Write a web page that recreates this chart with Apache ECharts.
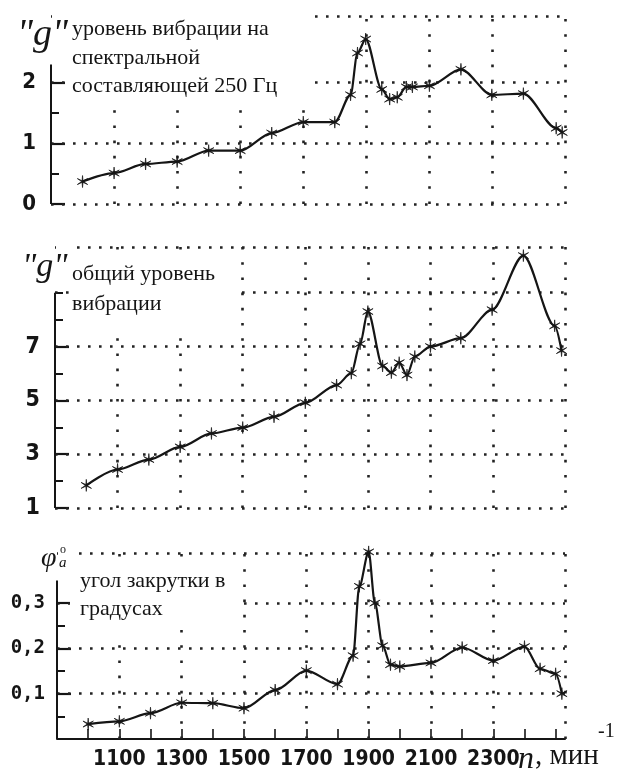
<!DOCTYPE html>
<html><head><meta charset="utf-8">
<script src="https://cdn.jsdelivr.net/npm/echarts@6/dist/echarts.min.js"></script>
<style>html,body{margin:0;padding:0;background:#fff}#c{width:617px;height:776px}</style>
</head><body><div id="c"></div>
<script>
// ---------- data ----------
const rpmTop = [1000,1100,1200,1300,1400,1500,1600,1700,1800,1850,1872,1898,1949,1974,1998,2027,2046,2100,2200,2298,2398,2502,2521];
const vib250 = [0.37,0.51,0.66,0.70,0.88,0.88,1.17,1.35,1.35,1.80,2.49,2.72,1.89,1.73,1.76,1.93,1.93,1.95,2.22,1.80,1.82,1.25,1.18];

const rpmMid = [1000,1100,1200,1300,1400,1500,1600,1700,1800,1847,1875,1900,1947,1975,2000,2025,2050,2100,2197,2297,2397,2497,2519];
const vibTotal = [1.84,2.43,2.80,3.27,3.77,3.99,4.39,4.91,5.57,6.01,7.10,8.30,6.28,6.03,6.40,5.94,6.63,7.00,7.31,8.37,10.38,7.77,6.85];

const rpmBot = [1000,1100,1200,1300,1400,1500,1600,1700,1800,1850,1870,1900,1920,1945,1970,2000,2100,2200,2300,2400,2450,2500,2520];
const twist = [0.033,0.039,0.057,0.080,0.079,0.068,0.108,0.151,0.121,0.184,0.337,0.413,0.300,0.206,0.164,0.160,0.168,0.202,0.173,0.204,0.155,0.144,0.100];

const xMin = 900, xMax = 2530;
const xGridLines = [1100,1300,1500,1700,1900,2100,2300,2530];
const xTicks = [1000,1100,1200,1300,1400,1500,1600,1700,1800,1900,2000,2100,2200,2300,2400,2500];
const xTickLabels = [1100,1300,1500,1700,1900,2100,2300];

const topRange = [0, 3.1],   topGridY = [0,1,2,3.1],       topMajor = [0,1,2],         topMinor = [0.5,1.5],            topLabels = [0,1,2],         topAxisEnd = 2.3;
const midRange = [1, 10.7],  midGridY = [1,3,5,7,9,10.7],  midMajor = [1,3,5,7],       midMinor = [2,4,6,8,9],          midLabels = [1,3,5,7],       midAxisEnd = 9;
const botRange = [0, 0.415], botGridY = [0.1,0.2,0.3,0.415], botMajor = [0.1,0.2,0.3], botMinor = [0.05,0.15,0.25],     botLabels = [0.1,0.2,0.3],   botAxisEnd = 0.35;

const titleTop = 'уровень вибрации на\nспектральной\nсоставляющей 250 Гц';
const titleMid = 'общий уровень\nвибрации';
const titleBot = 'угол закрутки в\nградусах';

// ---------- styling ----------
const ink = '#151515';
const narrow = '"Liberation Sans Narrow","DejaVu Sans Condensed",sans-serif';
const mono = '"DejaVu Sans Mono","Liberation Mono",monospace';
const serif = '"Liberation Serif","DejaVu Serif",serif';
const asterisk = 'path://M10,0 L10.8,8.6 L18.66,5 L11.6,10 L18.66,15 L10.8,11.4 L10,20 L9.2,11.4 L1.34,15 L8.4,10 L1.34,5 L9.2,8.6 Z';

const grids = [
  {left: 51, right: 52, top: 16, height: 188},
  {left: 55, right: 52, top: 247, height: 261},
  {left: 57, right: 52, top: 551, height: 188}
];

const panels = [
  {x: rpmTop, y: vib250, range: topRange, gridY: topGridY, major: topMajor, minor: topMinor, labels: topLabels, axisEnd: topAxisEnd,
   labelFont: narrow, labelSize: 22, labelMargin: 15, fmt: v => String(v)},
  {x: rpmMid, y: vibTotal, range: midRange, gridY: midGridY, major: midMajor, minor: midMinor, labels: midLabels, axisEnd: midAxisEnd,
   labelFont: narrow, labelSize: 23, labelMargin: 15, fmt: v => String(v)},
  {x: rpmBot, y: twist, range: botRange, gridY: botGridY, major: botMajor, minor: botMinor, labels: botLabels, axisEnd: botAxisEnd,
   labelFont: mono, labelSize: 19, labelMargin: 12, fmt: v => v.toFixed(1).replace('.', ',')}
];

const hDot = {type: [2.6, 8.4], width: 2.6, color: '#222', cap: 'butt'};
const vDot = {type: [2.6, 12.6], width: 2.6, color: '#222', cap: 'butt'};

const xAxes = [], yAxes = [], series = [];
panels.forEach((p, i) => {
  const isBottom = i === 2;
  xAxes.push({
    gridIndex: i, type: 'value', min: xMin, max: xMax, position: 'bottom',
    axisLine: {show: isBottom, onZero: false, lineStyle: {color: ink, width: 2}},
    axisTick: {show: isBottom, inside: true, length: 10, customValues: xTicks, lineStyle: {color: ink, width: 1.6}},
    axisLabel: {show: isBottom, customValues: xTickLabels, formatter: v => String(v), hideOverlap: false,
      fontFamily: narrow, fontWeight: 'bold', fontSize: 21, color: ink, margin: 10},
    splitLine: {show: false}
  });
  yAxes.push({
    gridIndex: i, type: 'value', min: p.range[0], max: p.range[1], position: 'left',
    axisLine: {show: false},
    axisTick: {show: true, inside: true, length: 14, customValues: p.major, lineStyle: {color: ink, width: 2.2}},
    axisLabel: {show: true, customValues: p.labels, formatter: p.fmt, fontFamily: p.labelFont, fontWeight: 'bold', fontSize: p.labelSize, color: ink, margin: p.labelMargin},
    splitLine: {show: false}
  });
  yAxes.push({
    gridIndex: i, type: 'value', min: p.range[0], max: p.range[1], position: 'left', offset: 0,
    axisLine: {show: false},
    axisTick: {show: true, inside: true, length: 8, customValues: p.minor, lineStyle: {color: ink, width: 2}},
    axisLabel: {show: false},
    splitLine: {show: false}
  });
  const pts = p.x.map((x, k) => [x, p.y[k]]);
  const ml = [];
  p.gridY.forEach(v => ml.push({yAxis: v, lineStyle: hDot}));
  xGridLines.forEach(v => ml.push({xAxis: v, lineStyle: vDot}));
  ml.push([{coord: [xMin, p.range[0]], lineStyle: {type: 'solid', color: ink, width: 2}}, {coord: [xMin, p.axisEnd]}]);
  series.push({
    type: 'line', xAxisIndex: i, yAxisIndex: 2 * i, data: pts, showSymbol: false, silent: true, clip: false, z: 1,
    lineStyle: {opacity: 0},
    markLine: {silent: true, z: 1, symbol: ['none', 'none'], label: {show: false}, animation: false, data: ml}
  });
  series.push({
    type: 'line', xAxisIndex: i, yAxisIndex: 2 * i, data: pts, z: 5,
    smooth: 0.3, smoothMonotone: 'x',
    symbol: asterisk, symbolSize: 12, symbolKeepAspect: true, showAllSymbol: true,
    lineStyle: {color: ink, width: 2.2},
    itemStyle: {color: ink, borderColor: ink, borderWidth: 0.7}
  });
});

const W = '#ffffff';
const rect = (x, y, w, h) => ({type: 'rect', shape: {x, y, width: w, height: h}, style: {fill: W}, z: 3, silent: true});
const txt = (x, y, text, font, extra) => ({type: 'text', x, y, z: 6, silent: true,
  style: Object.assign({text, font, fill: ink, verticalAlign: 'top', align: 'left'}, extra || {})});

const graphic = [
  // masks where the printed grid is interrupted by captions
  rect(52, 6, 258, 57), rect(66, 62, 244, 48),
  rect(56, 242, 16, 48), rect(70, 251, 164, 77),
  rect(58, 545, 14, 32), rect(70, 557, 166, 67), rect(110, 623, 18, 22),
  // captions
  txt(17, 16, '"g"', 'italic 38px ' + serif),
  txt(72, 15, titleTop, '22px ' + serif, {lineHeight: 28.5}),
  txt(22, 250, '"g"', 'italic 34px ' + serif),
  txt(72, 259, titleMid, '22px ' + serif, {lineHeight: 30}),
  txt(41, 545, 'φ', 'italic 28px ' + serif),
  txt(60, 544, 'o', '12px ' + serif),
  txt(59, 556, 'a', 'italic 15px ' + serif),
  txt(80, 567, titleBot, '22px ' + serif, {lineHeight: 28}),
  // axis name
  txt(518, 744, 'n', 'italic 32px ' + serif),
  txt(535, 742, ', мин', '29px ' + serif),
  txt(598, 722, '-1', '20px ' + serif)
];

const chart = echarts.init(document.getElementById('c'), null, {renderer: 'canvas'});
chart.setOption({
  animation: false,
  backgroundColor: '#fff',
  grid: grids,
  xAxis: xAxes,
  yAxis: yAxes,
  series,
  graphic: {elements: graphic}
});
</script></body></html>
